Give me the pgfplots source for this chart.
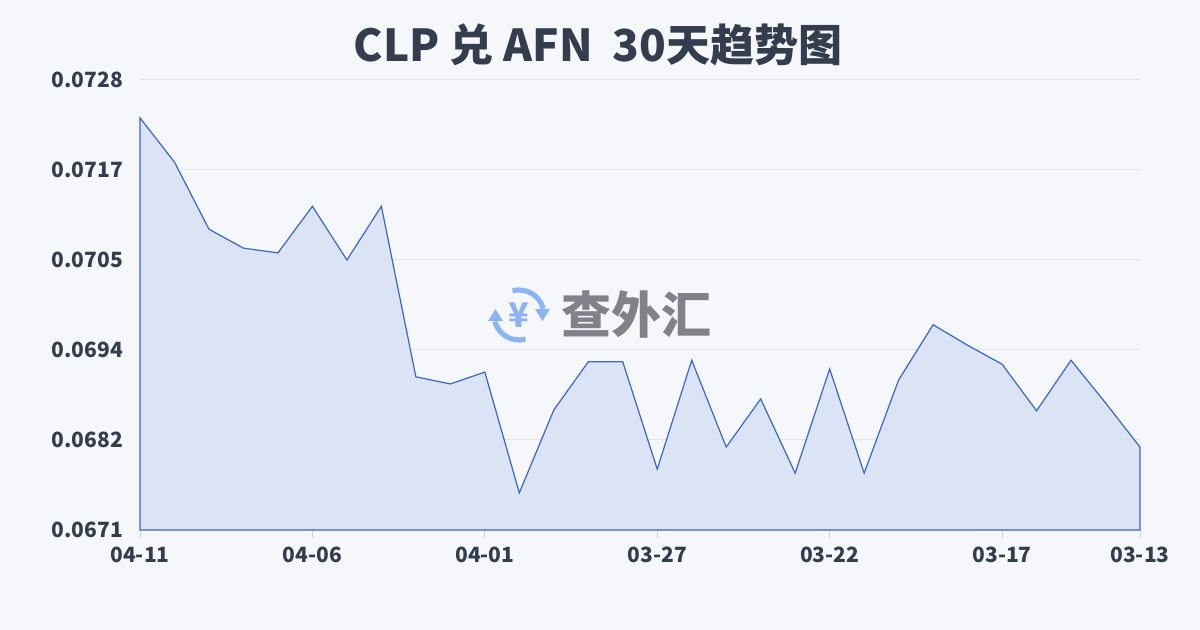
\documentclass[border=0pt]{standalone}
\usepackage{pgfplots}
\pgfplotsset{compat=1.18}
\usepackage{fontspec}
\setmainfont{Noto Sans}
\newfontfamily\cjk{Noto Sans CJK SC}
\definecolor{txt}{RGB}{51,61,78}
\definecolor{bg}{RGB}{245,247,250}
\definecolor{gridc}{RGB}{226,230,236}
\definecolor{linec}{RGB}{58,102,200}
\definecolor{fillc}{RGB}{216,226,245}
\definecolor{wmgray}{RGB}{128,130,138}
\definecolor{wmblue}{RGB}{140,180,245}
\begin{document}
\begin{tikzpicture}
\fill[bg] (0pt,0pt) rectangle (600pt,315pt);
\useasboundingbox (0pt,0pt) rectangle (600pt,315pt);
\node[font=\cjk\bfseries\fontsize{22}{26}\selectfont, text=txt] at (299pt,292.5pt) {CLP 兑 AFN\hspace{0.45em}30天趋势图};
\begin{axis}[
  at={(70pt,50pt)}, anchor=south west,
  scale only axis, width=500pt, height=225pt,
  xmin=0, xmax=29, ymin=0.0671, ymax=0.0728,
  scaled y ticks=false,
  clip=false,
  axis line style={draw=none},
  ytick={0.0671,0.06824,0.06938,0.07052,0.07166,0.0728},
  yticklabels={0.0671,0.0682,0.0694,0.0705,0.0717,0.0728},
  xtick={0,5,10,15,20,25,29},
  xticklabels={04-11,04-06,04-01,03-27,03-22,03-17,03-13},
  xtick pos=lower,
  ymajorgrids, grid style={gridc, line width=0.5pt},
  tick label style={font=\cjk\bfseries\fontsize{10.5}{12}\selectfont, text=txt},
  ytick style={draw=none},
  xtick style={draw=gridc!80!gray, line width=0.5pt},
  tick align=outside, major tick length=4pt,
  yticklabel style={xshift=-1pt},
  xticklabel style={yshift=-1pt},
]
\addplot[draw=linec, line width=0.6pt, fill=fillc, fill opacity=0.9] coordinates {
(0,0.07232) (1,0.07176) (2,0.07091) (3,0.07067) (4,0.07061) (5,0.07120)
(6,0.07052) (7,0.07120) (8,0.06904) (9,0.06895) (10,0.06910) (11,0.06757)
(12,0.06862) (13,0.06923) (14,0.06923) (15,0.06787) (16,0.06925) (17,0.06815)
(18,0.06876) (19,0.06782) (20,0.06914) (21,0.06782) (22,0.06900) (23,0.06970)
(24,0.06944) (25,0.06920) (26,0.06861) (27,0.06925) (28,0.06871) (29,0.06815)
(29,0.0671) (0,0.0671)} -- cycle;
\end{axis}
% watermark
\begin{scope}[shift={(259.5pt,157.5pt)}]
\draw[wmblue, line width=2.6pt] (105:12.5pt) arc (105:15:12.5pt);
\draw[wmblue, line width=2.6pt] (285:12.5pt) arc (285:195:12.5pt);
\fill[wmblue] (15.5pt,3pt) -- (8pt,3pt) -- (11.75pt,-3pt) -- cycle;
\fill[wmblue] (-15.5pt,-3pt) -- (-8pt,-3pt) -- (-11.75pt,3pt) -- cycle;
\node[text=wmblue, font=\cjk\bfseries\fontsize{17}{17}\selectfont] at (0pt,0pt) {¥};
\end{scope}
\node[font=\cjk\bfseries\fontsize{25}{25}\selectfont, text=wmgray] at (318pt,157.5pt) {查外汇};
\end{tikzpicture}
\end{document}
